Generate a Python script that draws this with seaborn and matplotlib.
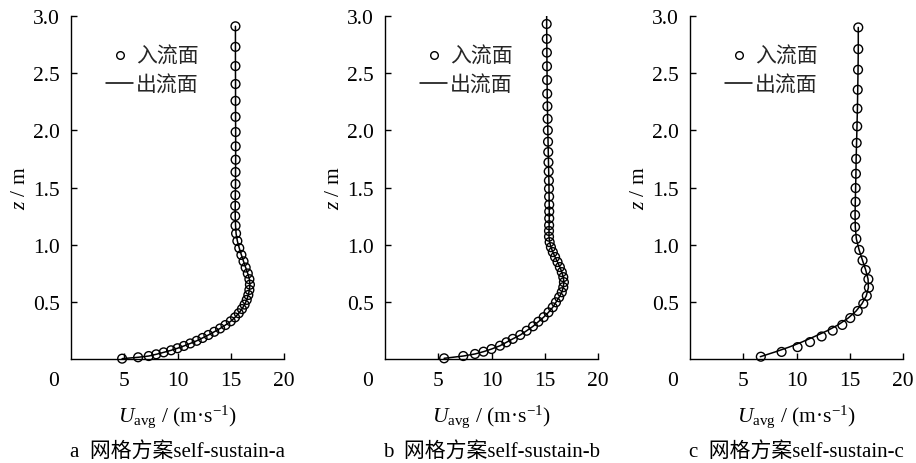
import matplotlib
matplotlib.use("Agg")
import matplotlib.pyplot as plt
from matplotlib.lines import Line2D
import pandas as pd
import seaborn as sns

# ---- profile data: height z (m) and mean velocity U (m/s) ----
z_a = [0.003, 0.015, 0.026, 0.041, 0.058, 0.076, 0.094, 0.114, 0.136, 0.159,
       0.184, 0.210, 0.238, 0.267, 0.297, 0.330, 0.364, 0.400, 0.437, 0.476,
       0.517, 0.560, 0.604, 0.650, 0.698, 0.748, 0.800, 0.854, 0.910, 0.970,
       1.032, 1.098, 1.166, 1.250, 1.340, 1.433, 1.530, 1.635, 1.743, 1.860,
       1.985, 2.118, 2.258, 2.405, 2.562, 2.730, 2.910]
u_in_a = [4.8, 6.3, 7.3, 8.0, 8.7, 9.4, 10.0, 10.6, 11.2, 11.8,
          12.35, 12.9, 13.45, 14.0, 14.5, 15.0, 15.4, 15.75, 16.05, 16.3,
          16.5, 16.65, 16.75, 16.8, 16.75, 16.6, 16.4, 16.2, 16.0, 15.8,
          15.62, 15.5, 15.45, 15.42, 15.42, 15.43, 15.45, 15.45, 15.46, 15.46,
          15.46, 15.45, 15.45, 15.45, 15.44, 15.44, 15.44]
u_out_a = list(u_in_a)

z_b = [0.006, 0.026, 0.044, 0.064, 0.087, 0.116, 0.146, 0.176, 0.21, 0.247,
       0.286, 0.326, 0.366, 0.408, 0.452, 0.496, 0.54, 0.584, 0.628, 0.672,
       0.716, 0.76, 0.804, 0.848, 0.892, 0.935, 0.978, 1.022, 1.07, 1.12,
       1.17, 1.23, 1.29, 1.35, 1.42, 1.49, 1.56, 1.64, 1.72, 1.81,
       1.90, 2.00, 2.10, 2.21, 2.32, 2.44, 2.56, 2.68, 2.80, 2.93]
u_in_b = [5.55, 7.35, 8.45, 9.25, 10.0, 10.8, 11.4, 12.0, 12.7, 13.3,
          13.9, 14.4, 14.9, 15.35, 15.75, 16.05, 16.35, 16.6, 16.74, 16.8,
          16.74, 16.6, 16.42, 16.2, 15.97, 15.76, 15.58, 15.46, 15.4, 15.4,
          15.41, 15.42, 15.42, 15.42, 15.41, 15.4, 15.39, 15.37, 15.35, 15.33,
          15.31, 15.29, 15.27, 15.25, 15.23, 15.22, 15.21, 15.2, 15.19, 15.18]
z_out_b = z_b + [3.0]
u_out_b = u_in_b + [15.18]

z_c = [0.02, 0.062, 0.104, 0.148, 0.197, 0.248, 0.298, 0.358, 0.42, 0.484,
       0.552, 0.624, 0.698, 0.778, 0.862, 0.954, 1.05, 1.155, 1.26, 1.375,
       1.495, 1.62, 1.75, 1.89, 2.035, 2.19, 2.355, 2.53, 2.71, 2.90]
u_in_c = [6.65, 8.6, 10.1, 11.27, 12.36, 13.4, 14.3, 15.05, 15.75, 16.27,
          16.6, 16.8, 16.75, 16.5, 16.2, 15.9, 15.62, 15.5, 15.5, 15.55,
          15.55, 15.58, 15.6, 15.65, 15.7, 15.72, 15.75, 15.78, 15.8, 15.8]
u_out_c = [6.6, 8.0, 9.3, 10.5, 11.7, 12.9, 13.9, 14.85, 15.6, 16.15,
           16.55, 16.75, 16.72, 16.5, 16.2, 15.88, 15.62, 15.52, 15.5, 15.52,
           15.55, 15.58, 15.6, 15.64, 15.68, 15.72, 15.75, 15.78, 15.8, 15.8]

captions = ["a  网格方案self-sustain-a",
            "b  网格方案self-sustain-b",
            "c  网格方案self-sustain-c"]
legend_labels = ["入流面", "出流面"]
x_ticks = [5, 10, 15, 20]
y_ticks = [0.5, 1.0, 1.5, 2.0, 2.5, 3.0]

panels = [
    (z_a, u_in_a, z_a, u_out_a),
    (z_b, u_in_b, z_out_b, u_out_b),
    (z_c, u_in_c, z_c, u_out_c),
]

sns.set_theme(style="ticks")
serif = ["Liberation Serif", "Noto Sans CJK SC"]
plt.rcParams["font.family"] = serif
plt.rcParams["mathtext.fontset"] = "custom"
plt.rcParams["mathtext.rm"] = "Liberation Serif"
plt.rcParams["mathtext.it"] = "Liberation Serif:italic"
plt.rcParams["axes.unicode_minus"] = False

FS = 15.5
W, H = 916, 464
fig = plt.figure(figsize=(W / 100, H / 100), dpi=100)
lefts = [71, 385, 690]
ax_w, ax_top, ax_bot = 213, 17, 360

for left, (zi, ui, zo, uo), cap in zip(lefts, panels, captions):
    ax = fig.add_axes([left / W, (H - ax_bot) / H, ax_w / W, (ax_bot - ax_top) / H])
    df_in = pd.DataFrame({"u": ui, "z": zi})
    df_out = pd.DataFrame({"u": uo, "z": zo})
    sns.lineplot(data=df_out, x="u", y="z", sort=False, estimator=None,
                 color="black", linewidth=1.1, ax=ax, zorder=2)
    sns.scatterplot(data=df_in, x="u", y="z", marker="o", s=40,
                    facecolor="none", edgecolor="black", linewidth=1.0,
                    ax=ax, zorder=3, clip_on=False)

    ax.set_xlim(0, 20)
    ax.set_ylim(0, 3.0)
    ax.set_xticks(x_ticks)
    ax.set_yticks(y_ticks)
    ax.set_yticklabels([f"{v:.1f}" for v in y_ticks])
    sns.despine(ax=ax)
    for sp in ("left", "bottom"):
        ax.spines[sp].set_color("black")
        ax.spines[sp].set_linewidth(1.0)
    ax.tick_params(direction="in", length=4, width=1.0, color="black",
                   labelsize=FS, labelcolor="black")
    ax.tick_params(axis="x", pad=9)
    ax.tick_params(axis="y", pad=8)
    ax.annotate("0", xy=(0, 0), xycoords="data", xytext=(-17, -12),
                textcoords="offset pixels", ha="center", va="top",
                fontsize=FS, color="black")

    ax.set_xlabel(r"$U_{\mathrm{avg}}$ / (m·s$^{-1}$)", fontsize=FS,
                  color="black", va="center")
    ax.xaxis.set_label_coords(0.5, -0.165)
    ax.set_ylabel(r"$z$ / m", fontsize=FS, color="black", va="center")
    ax.yaxis.set_label_coords(-0.235, 0.5)

    handles = [
        Line2D([], [], linestyle="none", marker="o", markersize=5.5,
               markerfacecolor="none", markeredgecolor="black", markeredgewidth=1.0),
        Line2D([], [], color="black", linewidth=1.1),
    ]
    ax.legend(handles, legend_labels, loc="upper left",
              bbox_to_anchor=(0.165, 0.915), frameon=False,
              handlelength=1.3, handletextpad=0.15, labelspacing=0.3,
              borderpad=0, borderaxespad=0,
              prop={"family": ["Noto Sans CJK SC"], "size": 15})

    ax.text(0.5, -0.268, cap, transform=ax.transAxes, ha="center", va="center",
            fontsize=15, color="black", family=serif)

fig.savefig("out.png", dpi=100)
